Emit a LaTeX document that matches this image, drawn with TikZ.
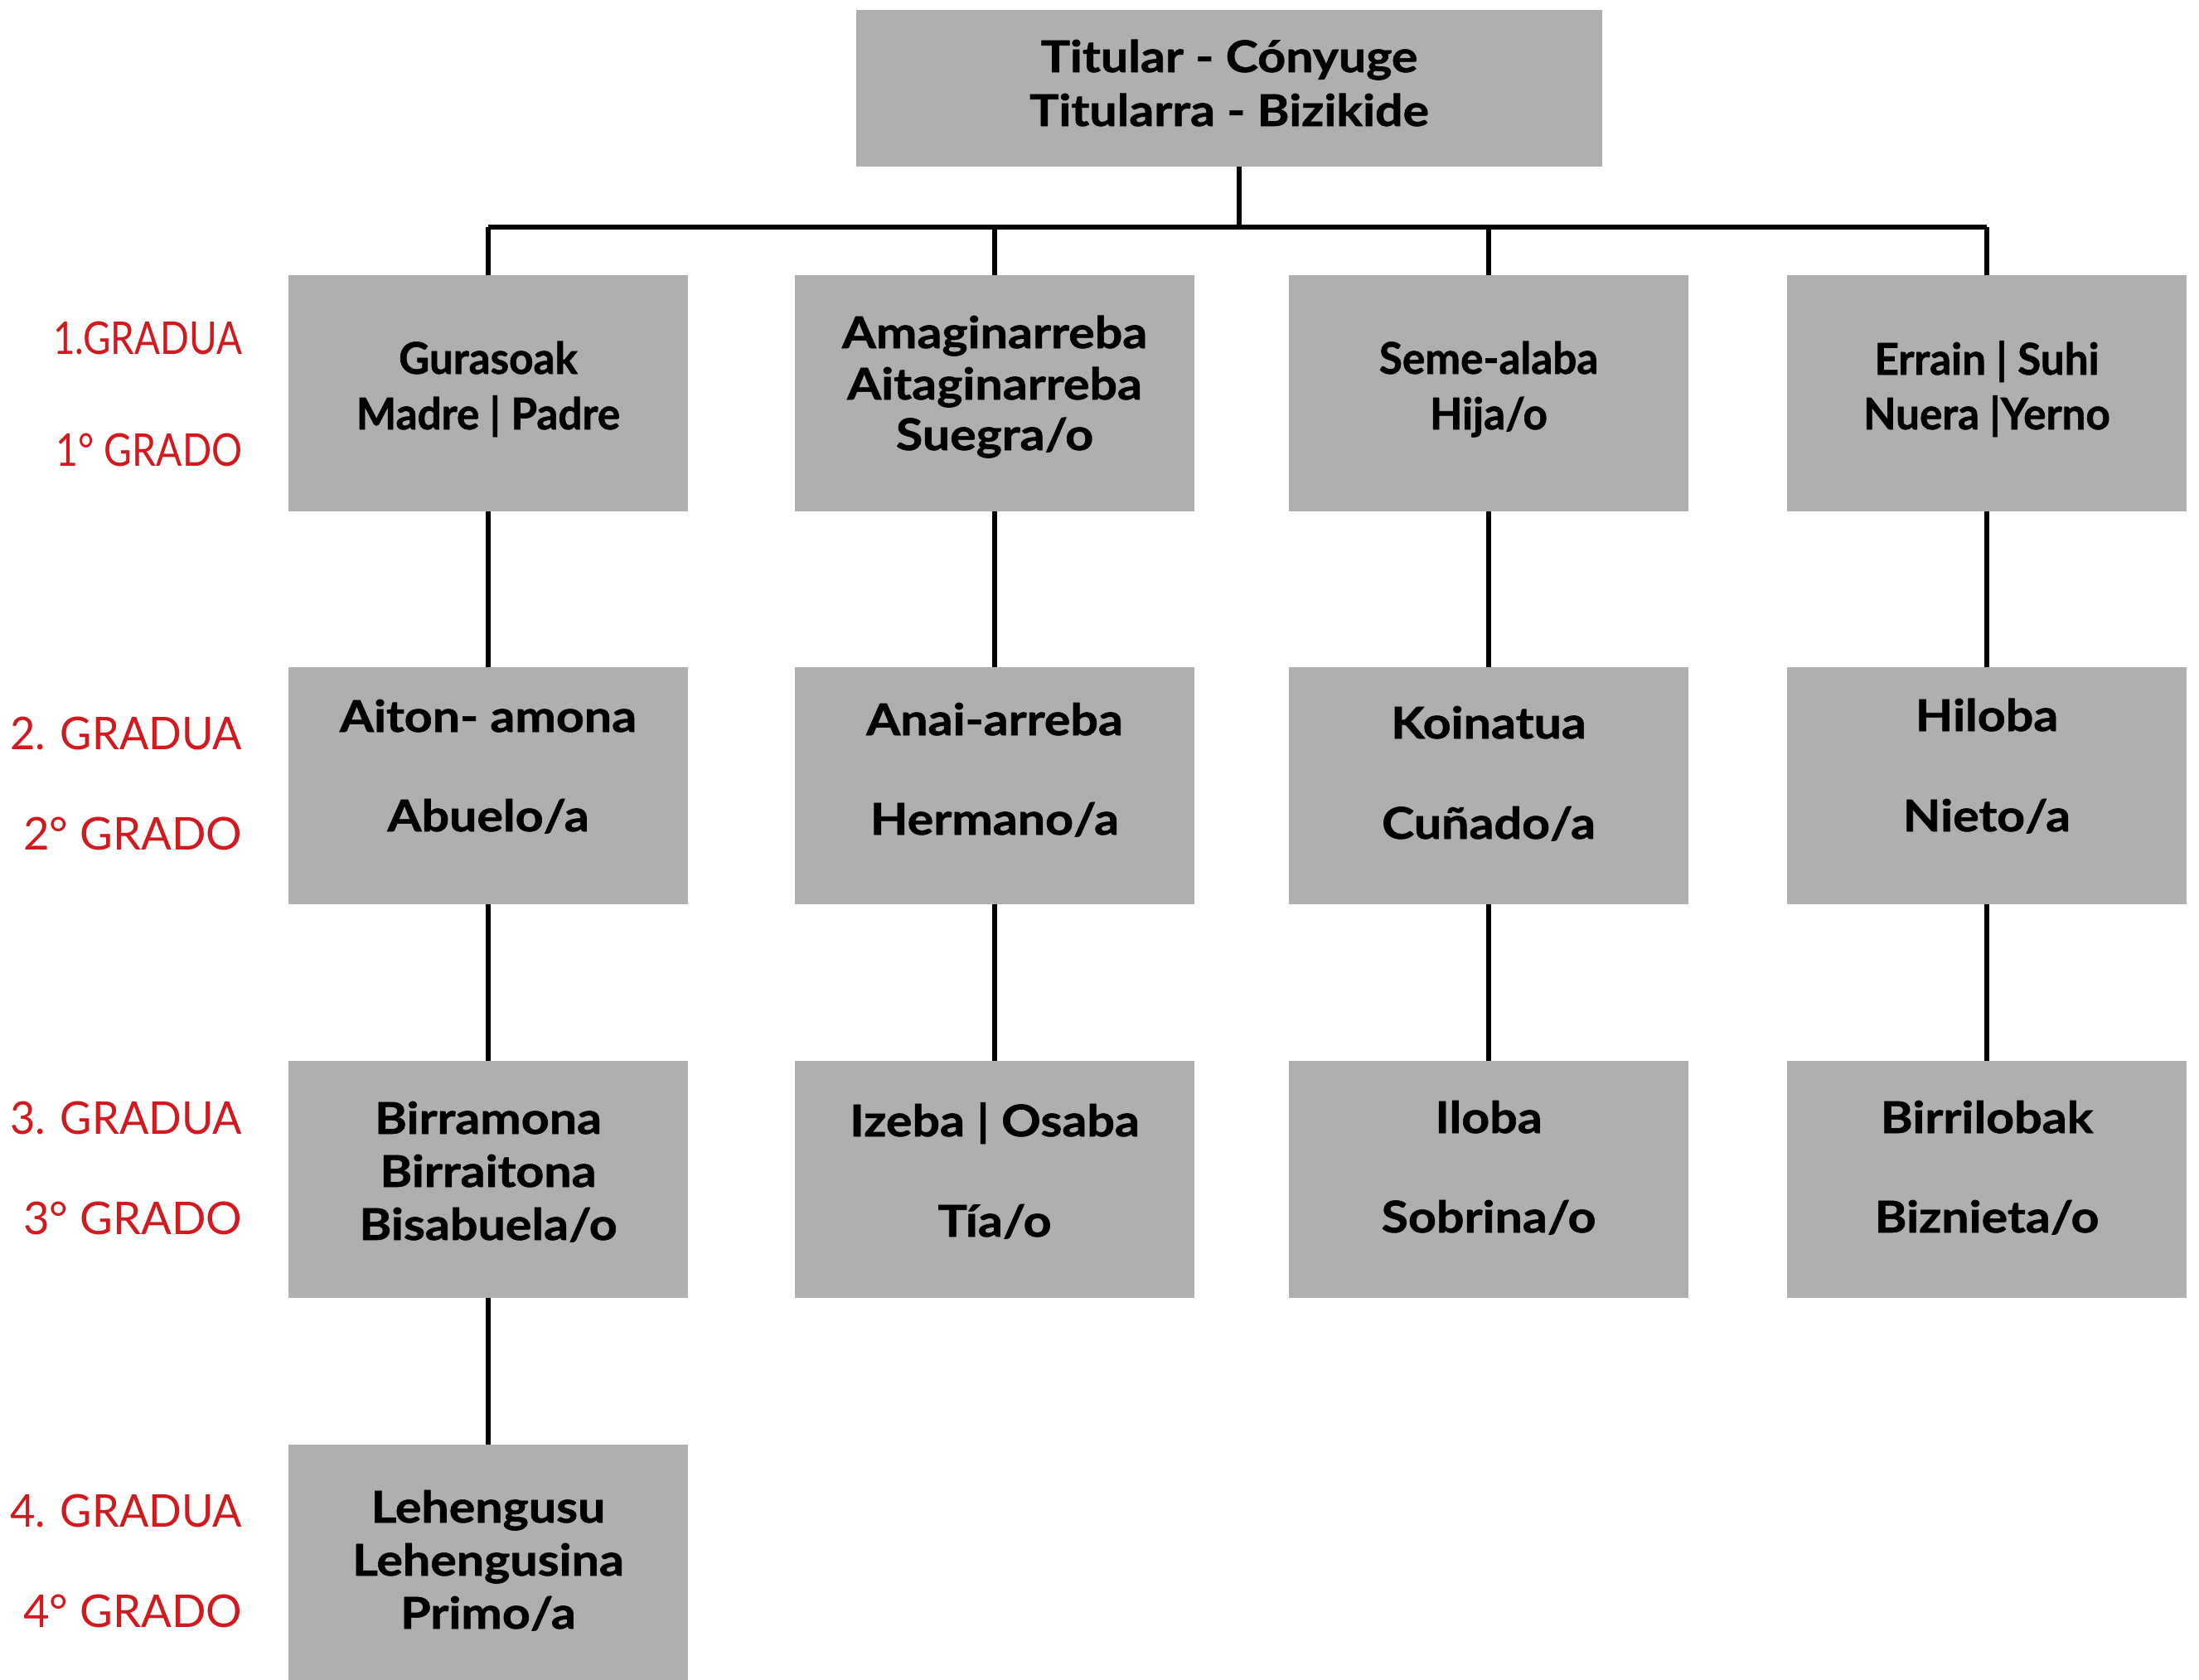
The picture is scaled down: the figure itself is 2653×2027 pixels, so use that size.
\documentclass[tikz,border=0pt]{standalone}
\usepackage{fontspec}
\setmainfont{Lato}
\newfontfamily\widebold{Lato}[BoldFeatures={FakeStretch=1.12,FakeBold=1.2}]
\newfontfamily\narrowbold{Lato}[BoldFeatures={FakeStretch=0.97,FakeBold=1.2}]
\definecolor{boxgray}{RGB}{175,175,175}
\definecolor{labred}{RGB}{208,26,31}
\tikzset{
  box/.style={fill=boxgray, draw=none, inner sep=0pt, outer sep=0pt},
  cell/.style={box, minimum width=4.82cm, minimum height=2.85cm},
  txt/.style={anchor=base, inner sep=0pt, font=\fontsize{15}{18}\selectfont\widebold\bfseries},
  ntxt/.style={anchor=base, inner sep=0pt, font=\fontsize{15}{18}\selectfont\narrowbold\bfseries},
  lab/.style={anchor=base east, inner sep=0pt, text=labred, font=\fontsize{15.5}{18}\selectfont},
  conn/.style={line width=1.5pt}
}
\begin{document}
\begin{tikzpicture}[x=0.01cm, y=-0.01cm]
\useasboundingbox (0,0) rectangle (2653,2027);
% top box
\node[box, minimum width=9cm, minimum height=1.89cm] (top) at (1483,106.5) {};
\node[txt] (topa) at (1483,87) {Titular - Cónyuge};
\node[txt] (topb) at (1483,152) {Titularra - Bizikide};
% boxes
\node[cell] (b11) at (589,474.5) {};
\node[cell] (b12) at (1200,474.5) {};
\node[cell] (b13) at (1796,474.5) {};
\node[cell] (b14) at (2397,474.5) {};
\node[cell] (b21) at (589,948) {};
\node[cell] (b22) at (1200,948) {};
\node[cell] (b23) at (1796,948) {};
\node[cell] (b24) at (2397,948) {};
\node[cell] (b31) at (589,1423) {};
\node[cell] (b32) at (1200,1423) {};
\node[cell] (b33) at (1796,1423) {};
\node[cell] (b34) at (2397,1423) {};
\node[cell] (b41) at (589,1885.5) {};
% texts row 1
\node[ntxt] (t11a) at (589,451) {Gurasoak};
\node[ntxt] (t11b) at (589,518) {Madre | Padre};
\node[txt] (t12a) at (1200,420) {Amaginarreba};
\node[txt] (t12b) at (1200,482) {Aitaginarreba};
\node[txt] (t12c) at (1200,543) {Suegra/o};
\node[ntxt] (t13a) at (1796,451) {Seme-alaba};
\node[ntxt] (t13b) at (1796,518) {Hija/o};
\node[ntxt] (t14a) at (2397,452) {Errain | Suhi};
\node[ntxt] (t14b) at (2397,518) {Nuera |Yerno};
% row 2
\node[txt] (t21a) at (589,883) {Aiton- amona};
\node[txt] (t21b) at (589,1003) {Abuelo/a};
\node[txt] (t22a) at (1200,887) {Anai-arreba};
\node[txt] (t22b) at (1200,1007) {Hermano/a};
\node[txt] (t23a) at (1796,891) {Koinatua};
\node[txt] (t23b) at (1796,1012) {Cuñado/a};
\node[txt] (t24a) at (2397,882) {Hiloba};
\node[txt] (t24b) at (2397,1003) {Nieto/a};
% row 3
\node[txt] (t31a) at (589,1368) {Birramona};
\node[txt] (t31b) at (589,1432) {Birraitona};
\node[txt] (t31c) at (589,1496) {Bisabuela/o};
\node[txt] (t32a) at (1200,1371) {Izeba | Osaba};
\node[txt] (t32b) at (1200,1492) {Tía/o};
\node[txt] (t33a) at (1796,1367) {Iloba};
\node[txt] (t33b) at (1796,1487) {Sobrina/o};
\node[txt] (t34a) at (2397,1367) {Birrilobak};
\node[txt] (t34b) at (2397,1487) {Biznieta/o};
% row 4
\node[txt] (t41a) at (589,1837) {Lehengusu};
\node[txt] (t41b) at (589,1901) {Lehengusina};
\node[txt] (t41c) at (589,1965) {Primo/a};
% labels
\node[lab] (l1a) at (293,427) {\scalebox{0.84}[1]{1.GRADUA}};
\node[lab] (l1b) at (293,562) {\scalebox{0.85}[1]{1° GRADO}};
\node[lab] (l2a) at (293,904) {\scalebox{0.96}[1]{2. GRADUA}};
\node[lab] (l2b) at (293,1025) {2° GRADO};
\node[lab] (l3a) at (293,1368) {\scalebox{0.96}[1]{3. GRADUA}};
\node[lab] (l3b) at (293,1489) {3° GRADO};
\node[lab] (l4a) at (293,1842) {\scalebox{0.96}[1]{4. GRADUA}};
\node[lab] (l4b) at (293,1963) {4° GRADO};
% connectors
\coordinate (hub) at (1495,274);
\draw[conn] (top.south -| hub) -- (hub);
\draw[conn] (b11.north |- hub) -- (b14.north |- hub);
\draw[conn] (b11.north |- hub) -- (b11.north);
\draw[conn] (b12.north |- hub) -- (b12.north);
\draw[conn] (b13.north |- hub) -- (b13.north);
\draw[conn] (b14.north |- hub) -- (b14.north);
\draw[conn] (b11.south) -- (b21.north);
\draw[conn] (b21.south) -- (b31.north);
\draw[conn] (b31.south) -- (b41.north);
\draw[conn] (b12.south) -- (b22.north);
\draw[conn] (b22.south) -- (b32.north);
\draw[conn] (b13.south) -- (b23.north);
\draw[conn] (b23.south) -- (b33.north);
\draw[conn] (b14.south) -- (b24.north);
\draw[conn] (b24.south) -- (b34.north);
\end{tikzpicture}
\end{document}
